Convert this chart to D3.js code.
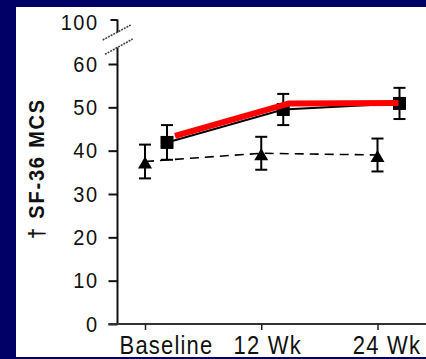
<!DOCTYPE html>
<html>
<head>
<meta charset="utf-8">
<script src="https://cdn.jsdelivr.net/npm/d3@7"></script>
<style>
  html, body { margin: 0; padding: 0; background: #000066; }
  svg { display: block; }
  text { font-family: "Liberation Sans", Arial, sans-serif; }
</style>
</head>
<body>
<svg id="chart" width="426" height="359"></svg>
<script>
// ---- data ----
const categories = ["Baseline", "12 Wk", "24 Wk"];
const treatMean = [41.9, 49.5, 50.9];
const treatErr  = [4.0, 3.6, 3.6];
const ctrlMean  = [37.5, 39.4, 39.0];
const ctrlErr   = [3.9, 3.8, 3.8];
const redOverlay = [43.4, 50.9, 51.0];
const yTicks = [0, 10, 20, 30, 40, 50, 60];
const yBreakTick = [100];
const yTitle = "\u2020 SF-36 MCS";

// ---- layout ----
const W = 426, H = 359;
const svg = d3.select("#chart");
svg.append("rect").attr("width", W).attr("height", H).attr("fill", "#000066");
svg.append("rect").attr("x", 16).attr("y", 7).attr("width", W - 16).attr("height", 350).attr("fill", "#ffffff");

const axisX = 117.5, axisY = 324;
const y = d3.scaleLinear().domain([0, 60]).range([axisY, 64]);
const yTop = d3.scaleLinear().domain([100, 110]).range([19.5, 0]);
const x = d3.scalePoint().domain(categories).range([145, 377.5]);
const sqOff = 22;
const redOff = [30, 28, 21];
const labelOff = [21, 6, 9];

// y axis ticks (lower part)
const gy = svg.append("g").attr("transform", `translate(${axisX},0)`)
  .call(d3.axisLeft(y).tickValues(yTicks).tickSize(9).tickPadding(9));
gy.select(".domain").remove();
gy.selectAll(".tick line").attr("stroke", "#111").attr("stroke-width", 2);
gy.selectAll(".tick text").attr("font-size", 20).attr("fill", "#111").attr("letter-spacing", 1.5)
  .attr("x", null).attr("dy", null).attr("y", 0)
  .attr("transform", "translate(-19,0) scale(1,1.1) translate(0,6.5)");

// upper part (100)
const gy2 = svg.append("g").attr("transform", `translate(${axisX},0)`)
  .call(d3.axisLeft(yTop).tickValues(yBreakTick).tickSize(7).tickPadding(11));
gy2.select(".domain").remove();
gy2.selectAll(".tick line").attr("stroke", "#111").attr("stroke-width", 2);
gy2.selectAll(".tick text").attr("font-size", 20).attr("fill", "#111").attr("letter-spacing", 1.5)
  .attr("x", null).attr("dy", null).attr("y", 0)
  .attr("transform", "translate(-19,3) scale(1,1.1) translate(0,6.5)");

// axis lines with break
svg.append("line").attr("x1", axisX).attr("x2", axisX).attr("y1", axisY).attr("y2", 47.5)
  .attr("stroke", "#111").attr("stroke-width", 2);
svg.append("line").attr("x1", axisX).attr("x2", axisX).attr("y1", yTop(100)).attr("y2", 32.5)
  .attr("stroke", "#111").attr("stroke-width", 2);
// break slashes
[[102.7, 40, 130.7, 25], [105, 54.3, 132.7, 39]].forEach(d => {
  svg.append("line").attr("x1", d[0]).attr("y1", d[1]).attr("x2", d[2]).attr("y2", d[3])
    .attr("stroke", "#444").attr("stroke-width", 1.6).attr("stroke-dasharray", "2,1");
});

// x axis
svg.append("line").attr("x1", 108.5).attr("x2", W).attr("y1", axisY).attr("y2", axisY)
  .attr("stroke", "#333").attr("stroke-width", 2);
const gx = svg.append("g").attr("transform", `translate(0,${axisY})`)
  .call(d3.axisBottom(x).tickSize(6).tickPadding(8));
gx.select(".domain").remove();
gx.selectAll(".tick line").attr("stroke", "#222").attr("stroke-width", 1.5);
gx.selectAll(".tick text").attr("font-size", 22).attr("fill", "#111").attr("letter-spacing", 1.2)
  .attr("y", 0).attr("dy", "0.71em")
  .attr("transform", (d, i) => `translate(${labelOff[i]},12.5) scale(1,1.14)`);

// y title
svg.append("text")
  .attr("transform", `translate(36,168.5) rotate(-90) scale(1,1.1)`)
  .attr("text-anchor", "middle").attr("dy", "0.36em")
  .attr("font-size", 20).attr("font-weight", "bold").attr("letter-spacing", 1.8)
  .attr("fill", "#111").text(yTitle);

// control series: dashed line
const ctrlLine = d3.line().x((d, i) => x(categories[i])).y(d => y(d));
svg.append("path").datum(ctrlMean).attr("d", ctrlLine)
  .attr("fill", "none").attr("stroke", "#000").attr("stroke-width", 1.6).attr("stroke-dasharray", "9,6");

// treatment series: solid line
const treatLine = d3.line().x((d, i) => x(categories[i]) + sqOff).y(d => y(d));
svg.append("path").datum(treatMean).attr("d", treatLine)
  .attr("fill", "none").attr("stroke", "#000").attr("stroke-width", 2);

// error bars
function errBars(means, errs, off) {
  means.forEach((m, i) => {
    const cx = x(categories[i]) + off;
    const g = svg.append("g").attr("stroke", "#000").attr("stroke-width", 2);
    g.append("line").attr("x1", cx).attr("x2", cx).attr("y1", y(m - errs[i])).attr("y2", y(m + errs[i]));
    g.append("line").attr("x1", cx - 6).attr("x2", cx + 6).attr("y1", y(m + errs[i])).attr("y2", y(m + errs[i]));
    g.append("line").attr("x1", cx - 6).attr("x2", cx + 6).attr("y1", y(m - errs[i])).attr("y2", y(m - errs[i]));
  });
}
errBars(ctrlMean, ctrlErr, 0);
errBars(treatMean, treatErr, sqOff);

// triangles
ctrlMean.forEach((m, i) => {
  const cx = x(categories[i]), cy = y(m);
  svg.append("path")
    .attr("d", `M${cx},${cy - 5} L${cx + 7},${cy + 7} L${cx - 7},${cy + 7} Z`)
    .attr("fill", "#000");
});

// squares
treatMean.forEach((m, i) => {
  const cx = x(categories[i]) + sqOff, cy = y(m);
  svg.append("rect").attr("x", cx - 6.5).attr("y", cy - 6.5).attr("width", 13).attr("height", 13).attr("fill", "#000");
});

// red overlay line
const redLine = d3.line().x((d, i) => x(categories[i]) + redOff[i]).y(d => y(d));
svg.append("path").datum(redOverlay).attr("d", redLine)
  .attr("fill", "none").attr("stroke", "#ff0000").attr("stroke-width", 6).attr("stroke-linejoin", "round");
</script>
</body>
</html>
